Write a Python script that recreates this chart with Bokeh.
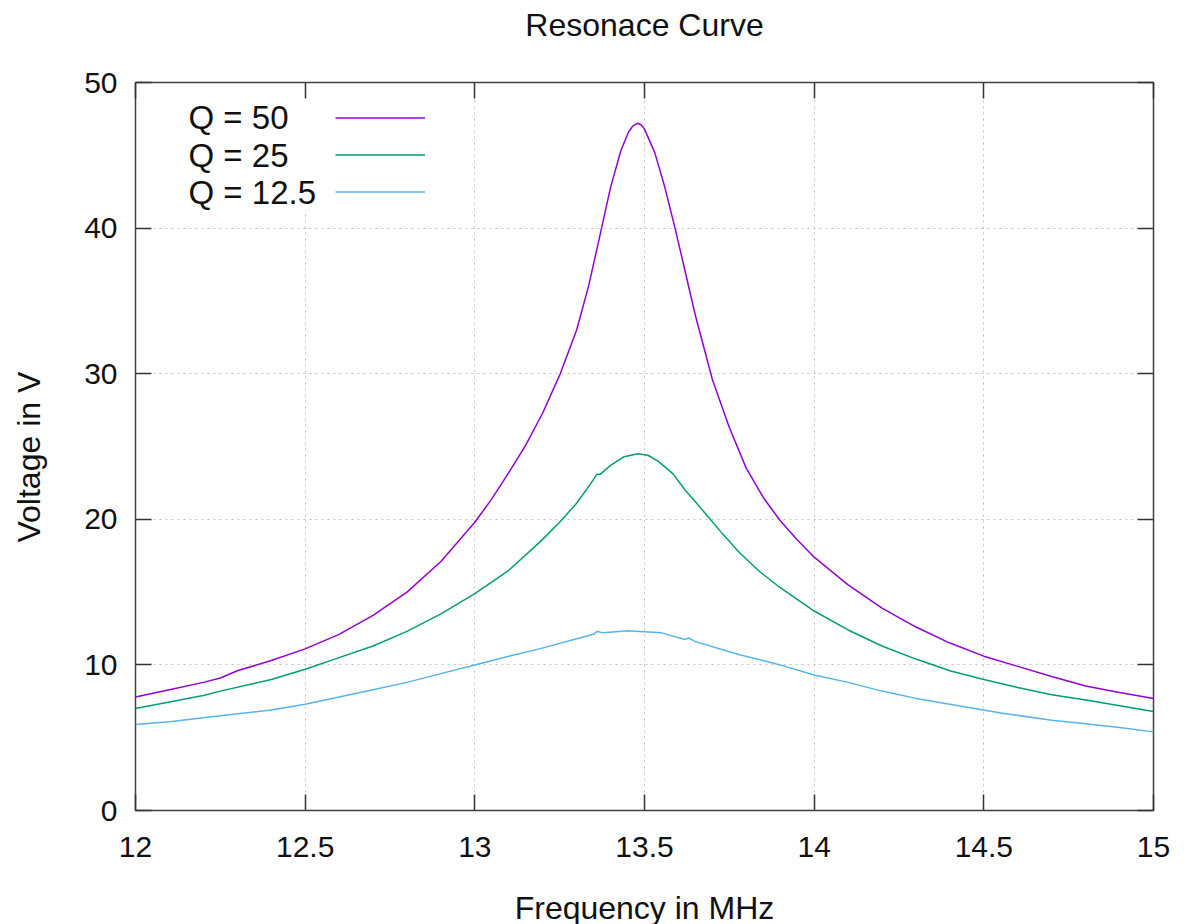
from bokeh.plotting import figure
from bokeh.models import (LinearAxis, Range1d, FixedTicker, Legend, LegendItem,
                          Label, BoxAnnotation, Title)
from bokeh.embed import file_html
from bokeh.resources import INLINE

# ---- data ----
f_q50 = [12.0, 12.1, 12.2, 12.25, 12.3, 12.4, 12.5, 12.6, 12.7, 12.8, 12.9, 13.0,
         13.05, 13.1, 13.15, 13.2, 13.25, 13.3, 13.335, 13.364, 13.4, 13.43, 13.453,
         13.465, 13.479, 13.49, 13.5, 13.53, 13.56, 13.59, 13.62, 13.65, 13.7, 13.75,
         13.8, 13.85, 13.9, 13.95, 14.0, 14.1, 14.2, 14.3, 14.4, 14.5, 14.6, 14.7,
         14.8, 14.9, 15.0]
v_q50 = [7.8, 8.3, 8.8, 9.1, 9.6, 10.3, 11.1, 12.1, 13.4, 15.0, 17.1, 19.8,
         21.4, 23.2, 25.1, 27.3, 29.9, 33.0, 36.0, 39.0, 42.8, 45.3, 46.6,
         47.0, 47.2, 47.1, 46.8, 45.2, 42.8, 40.0, 37.0, 34.0, 29.6, 26.3,
         23.5, 21.5, 19.9, 18.6, 17.4, 15.5, 13.9, 12.6, 11.5, 10.6, 9.9, 9.2,
         8.55, 8.1, 7.7]

f_q25 = [12.0, 12.2, 12.25, 12.4, 12.5, 12.6, 12.7, 12.8, 12.9, 13.0, 13.1, 13.19,
         13.25, 13.3, 13.34, 13.36, 13.37, 13.4, 13.44, 13.48, 13.51, 13.54, 13.585,
         13.62, 13.65, 13.69, 13.73, 13.78, 13.84, 13.9, 14.0, 14.1, 14.2, 14.3, 14.4,
         14.5, 14.6, 14.7, 14.81, 14.9, 15.0]
v_q25 = [7.0, 7.9, 8.2, 9.0, 9.7, 10.5, 11.3, 12.3, 13.5, 14.9, 16.5, 18.4,
         19.8, 21.1, 22.4, 23.1, 23.1, 23.7, 24.3, 24.5, 24.4, 24.0, 23.1,
         22.0, 21.2, 20.1, 19.0, 17.7, 16.4, 15.3, 13.7, 12.4, 11.3, 10.4, 9.6,
         9.0, 8.45, 7.95, 7.55, 7.2, 6.8]

f_q125 = [12.0, 12.1, 12.25, 12.4, 12.5, 12.6, 12.7, 12.8, 12.9, 13.0, 13.1, 13.19,
          13.3, 13.35, 13.36, 13.38, 13.45, 13.55, 13.62, 13.63, 13.65, 13.78, 13.9,
          14.0, 14.1, 14.2, 14.3, 14.4, 14.55, 14.7, 14.8, 14.9, 15.0]
v_q125 = [5.9, 6.1, 6.5, 6.9, 7.3, 7.8, 8.3, 8.8, 9.4, 10.0, 10.6, 11.1,
          11.8, 12.1, 12.3, 12.2, 12.35, 12.2, 11.75, 11.85, 11.6, 10.7, 10.0,
          9.3, 8.8, 8.2, 7.7, 7.3, 6.7, 6.2, 5.95, 5.7, 5.4]

series_labels = ["Q = 50", "Q = 25", "Q = 12.5"]
series_colors = ["#9400d3", "#009e73", "#56b4e9"]
x_ticks = [12, 12.5, 13, 13.5, 14, 14.5, 15]
y_ticks = [0, 10, 20, 30, 40, 50]
title_text = "Resonace Curve"
x_title = "Frequency in MHz"
y_title = "Voltage in V"

FONT = "Liberation Sans"
TICK_SIZE = "30px"
LABEL_SIZE = "32px"
TXT = "#111111"

p = figure(width=1184, height=924, output_backend="svg", toolbar_location=None,
           x_range=Range1d(12, 15), y_range=Range1d(0, 50),
           frame_width=1018, frame_height=728, title=None,
           min_border_left=135, min_border_right=31,
           min_border_top=82, min_border_bottom=114)
p.background_fill_color = "white"
p.border_fill_color = "white"
p.outline_line_color = "#404040"
p.outline_line_width = 1.5

for ax in (p.xaxis[0], p.yaxis[0]):
    ax.axis_line_color = None
    ax.major_tick_in = 16
    ax.major_tick_out = 0
    ax.minor_tick_line_color = None
    ax.major_tick_line_color = "#333333"
    ax.major_tick_line_width = 1.5
    ax.major_label_text_font = FONT
    ax.major_label_text_font_size = TICK_SIZE
    ax.major_label_text_color = TXT

p.xaxis[0].ticker = FixedTicker(ticks=x_ticks)
p.yaxis[0].ticker = FixedTicker(ticks=y_ticks)
p.xaxis[0].major_label_overrides = {12: "12", 12.5: "12.5", 13: "13", 13.5: "13.5",
                                    14: "14", 14.5: "14.5", 15: "15"}
p.xaxis[0].major_label_standoff = 26
p.yaxis[0].major_label_standoff = 18

# mirror axes (ticks only)
top = LinearAxis(ticker=FixedTicker(ticks=x_ticks), major_label_text_font_size="0px",
                 axis_line_color=None, major_tick_in=16, major_tick_out=0,
                 minor_tick_line_color=None, major_tick_line_color="#333333",
                 major_tick_line_width=1.5, major_label_standoff=0)
right = LinearAxis(ticker=FixedTicker(ticks=y_ticks), major_label_text_font_size="0px",
                   axis_line_color=None, major_tick_in=16, major_tick_out=0,
                   minor_tick_line_color=None, major_tick_line_color="#333333",
                   major_tick_line_width=1.5, major_label_standoff=0)
top.major_label_overrides = {t: "" for t in x_ticks}
right.major_label_overrides = {t: "" for t in y_ticks}
p.add_layout(top, "above")
p.add_layout(right, "right")

# spacers + titles in the border panels
def spacer(s):
    return Title(text=" ", text_font_size="1px", standoff=s)

p.add_layout(spacer(37), "above")
p.add_layout(Title(text=title_text, align="center", standoff=0, text_font=FONT,
                   text_font_size="32px", text_font_style="normal", text_color=TXT),
             "above")
p.add_layout(spacer(27), "below")
p.add_layout(Title(text=x_title, align="center", vertical_align="top", standoff=0,
                   text_font=FONT, text_font_size=LABEL_SIZE, text_font_style="normal",
                   text_color=TXT), "below")
p.add_layout(spacer(32), "left")
p.add_layout(Title(text=y_title, align="left", offset=268, standoff=0,
                   text_font=FONT, text_font_size=LABEL_SIZE, text_font_style="normal",
                   text_color=TXT), "left")

p.xgrid.ticker = FixedTicker(ticks=x_ticks)
p.ygrid.ticker = FixedTicker(ticks=y_ticks)
for g in (p.xgrid[0], p.ygrid[0]):
    g.grid_line_color = "#c0c0c0"
    g.grid_line_dash = "2 4"
    g.grid_line_width = 1

r1 = p.line(f_q50, v_q50, line_color=series_colors[0], line_width=1.5)
r2 = p.line(f_q25, v_q25, line_color=series_colors[1], line_width=1.5)
r3 = p.line(f_q125, v_q125, line_color=series_colors[2], line_width=1.5)

# key background (white box hiding the grid, as in gnuplot key area)
p.add_layout(BoxAnnotation(left=10, right=300, top=718, bottom=600,
                           left_units="screen", right_units="screen",
                           top_units="screen", bottom_units="screen",
                           fill_color="white", fill_alpha=1.0, line_color=None,
                           level="underlay"))

legend = Legend(items=[LegendItem(label=" ", renderers=[r]) for r in (r1, r2, r3)],
                location=(200, 600), orientation="vertical",
                glyph_width=90, glyph_height=37, label_height=37, label_width=1,
                label_text_font_size="1px", spacing=0, padding=0, margin=0,
                border_line_color=None, background_fill_alpha=0)
p.add_layout(legend)

row_y = [693, 655, 618]
for lab, yy in zip(series_labels, row_y):
    p.add_layout(Label(x=53, y=yy, x_units="screen", y_units="screen", text=lab,
                       text_font=FONT, text_font_size="33px", text_color=TXT,
                       text_baseline="middle", text_align="left"))

open("out.html", "w").write(file_html(p, INLINE))
